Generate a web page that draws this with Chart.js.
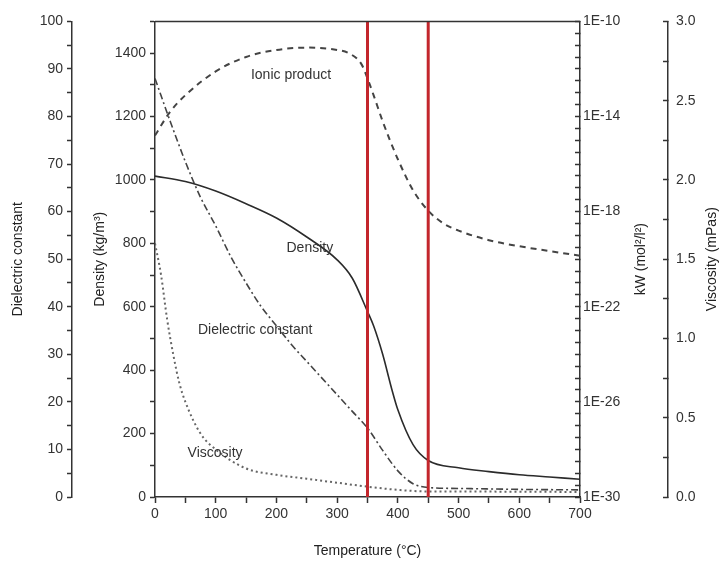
<!DOCTYPE html>
<html>
<head>
<meta charset="utf-8">
<script src="https://cdn.jsdelivr.net/npm/chart.js@4.4.1/dist/chart.umd.min.js"></script>
<style>
  html, body { margin: 0; padding: 0; background: #fff; }
  #wrap { width: 724px; height: 566px; }
</style>
</head>
<body>
<div id="wrap"><canvas id="chart"></canvas></div>
<script>
// temperatures (°C) and values
const densityTemps = [0, 50, 100, 150, 200, 250, 300, 325, 350, 360, 375, 390, 400, 425, 450, 500, 550, 600, 650, 700];
const densityValues = [1012, 995, 965, 925, 880, 820, 748, 690, 585, 540, 450, 340, 275, 165, 115, 92, 80, 70, 63, 56];

const dielectricTemps = [0, 25, 50, 75, 100, 125, 150, 175, 200, 225, 250, 275, 300, 325, 350, 375, 400, 425, 450, 500, 600, 700];
const dielectricValues = [88, 79, 70.5, 63, 57, 50.5, 45, 40, 36, 32, 28.5, 25, 21.5, 18, 14.5, 9.8, 5.5, 2.8, 2, 1.8, 1.6, 1.5];

const ionicTemps = [0, 25, 50, 100, 150, 200, 250, 300, 320, 340, 350, 360, 375, 387, 400, 425, 450, 475, 500, 550, 600, 650, 700];
const ionicValues = [1.6e-15, 1.6e-14, 7.9e-14, 7.9e-13, 3.2e-12, 6.3e-12, 7.9e-12, 6.3e-12, 4.5e-12, 1.6e-12, 4.0e-13, 7.9e-14, 6.3e-15, 1.0e-15, 1.6e-16, 7.9e-18, 1.1e-18, 3.2e-19, 1.6e-19, 6.3e-20, 3.5e-20, 2.2e-20, 1.4e-20];

const viscosityTemps = [0, 10, 20, 30, 40, 50, 75, 100, 150, 200, 250, 300, 350, 400, 450, 500, 600, 700];
const viscosityValues = [1.6, 1.4, 1.12, 0.9, 0.72, 0.6, 0.4, 0.3, 0.18, 0.14, 0.115, 0.09, 0.065, 0.045, 0.035, 0.035, 0.033, 0.032];

const markerTemps = [350, 450];

const labelTexts = ['Ionic product', 'Density', 'Dielectric constant', 'Viscosity'];
const labelTemps = [224, 255, 165, 99];
const labelDensity = [1331, 785, 527, 139];

const kwLabelExps = [-30, -26, -22, -18, -14, -10];

const FONT = "'Liberation Sans', Arial, sans-serif";
const INK = '#333';

function pts(xs, ys) { return xs.map((x, i) => ({ x, y: ys[i] })); }

// curve captions, top frame line and the two right-hand axis titles (read bottom-to-top like the left ones)
const curveLabels = {
  id: 'curveLabels',
  afterDatasetsDraw(chart) {
    const { ctx, chartArea: a, scales } = chart;
    ctx.save();
    ctx.font = '14px ' + FONT;
    ctx.fillStyle = INK;
    ctx.textAlign = 'center';
    ctx.textBaseline = 'middle';
    labelTexts.forEach((t, i) => {
      ctx.fillText(t, scales.x.getPixelForValue(labelTemps[i]), scales.density.getPixelForValue(labelDensity[i]));
    });
    ctx.strokeStyle = INK;
    ctx.lineWidth = 1.5;
    ctx.beginPath();
    ctx.moveTo(a.left, a.top);
    ctx.lineTo(a.right, a.top);
    ctx.stroke();

    const midY = (a.top + a.bottom) / 2;
    ctx.fillStyle = '#222';
    [[scales.kw, 'kW (mol²/l²)', 27], [scales.viscosity, 'Viscosity (mPas)', 12]].forEach(([s, text, off]) => {
      ctx.save();
      ctx.translate(s.right - off, midY);
      ctx.rotate(-Math.PI / 2);
      ctx.fillText(text, 0, 0);
      ctx.restore();
    });
    ctx.restore();
  }
};

const tickFont = { family: FONT, size: 14 };
const titleFont = { family: FONT, size: 14 };

function axisBase(width) {
  return {
    border: { display: true, color: INK, width: 1.5 },
    grid: { drawOnChartArea: false, drawTicks: true, tickLength: 5, tickColor: INK, tickWidth: 1.5 },
    afterFit: s => { s.width = width; }
  };
}

const markerSets = markerTemps.map(t => ({
  data: [{ x: t, y: 0 }, { x: t, y: 1500 }],
  yAxisID: 'density',
  borderColor: '#c3262c',
  borderWidth: 3,
  pointRadius: 0
}));

new Chart(document.getElementById('chart'), {
  type: 'line',
  data: {
    datasets: [
      ...markerSets,
      {
        label: 'Density',
        data: pts(densityTemps, densityValues),
        yAxisID: 'density',
        borderColor: '#2b2b2b', borderWidth: 1.6,
        pointRadius: 0, cubicInterpolationMode: 'monotone'
      },
      {
        label: 'Dielectric constant',
        data: pts(dielectricTemps, dielectricValues),
        yAxisID: 'dielectric',
        borderColor: '#444', borderWidth: 1.6, borderDash: [7, 3, 2, 3],
        pointRadius: 0, cubicInterpolationMode: 'monotone'
      },
      {
        label: 'Ionic product',
        data: pts(ionicTemps, ionicValues),
        yAxisID: 'kw',
        borderColor: '#444', borderWidth: 2, borderDash: [6, 5],
        pointRadius: 0, cubicInterpolationMode: 'monotone'
      },
      {
        label: 'Viscosity',
        data: pts(viscosityTemps, viscosityValues),
        yAxisID: 'viscosity',
        borderColor: '#666', borderWidth: 2, borderDash: [2, 3],
        pointRadius: 0, cubicInterpolationMode: 'monotone'
      }
    ]
  },
  options: {
    responsive: true,
    maintainAspectRatio: false,
    animation: false,
    layout: { padding: { top: 20, left: 0, right: 0, bottom: 0 } },
    plugins: { legend: { display: false }, tooltip: { enabled: false } },
    scales: {
      x: {
        type: 'linear', min: 0, max: 700,
        border: { display: true, color: INK, width: 1.5 },
        grid: { drawOnChartArea: false, tickLength: 6, tickColor: INK, tickWidth: 1.5 },
        ticks: {
          stepSize: 50, autoSkip: false, maxRotation: 0, color: INK, font: tickFont, padding: 3,
          callback: v => (v % 100 === 0 ? String(v) : '')
        },
        title: { display: true, text: 'Temperature (°C)', color: '#222', font: titleFont, padding: { top: 0, bottom: 6 } },
        afterFit: s => { s.height = 69; }
      },
      dielectric: {
        ...axisBase(72),
        type: 'linear', position: 'left', weight: 2, min: 0, max: 100,
        ticks: {
          stepSize: 5, autoSkip: false, color: INK, font: tickFont, padding: 4,
          callback: v => (v % 10 === 0 ? String(v) : '')
        },
        title: { display: true, text: 'Dielectric constant', color: '#222', font: titleFont, padding: { top: 10, bottom: 0 } }
      },
      density: {
        ...axisBase(83),
        type: 'linear', position: 'left', weight: 1, min: 0, max: 1500,
        ticks: {
          stepSize: 100, autoSkip: false, color: INK, font: tickFont, padding: 4,
          callback: v => (v % 200 === 0 && v <= 1400 ? String(v) : '')
        },
        title: { display: true, text: 'Density (kg/m³)', color: '#222', font: titleFont, padding: { top: 20, bottom: 0 } }
      },
      kw: {
        ...axisBase(88),
        type: 'logarithmic', position: 'right', weight: 1, min: 1e-30, max: 1e-10,
        grid: { drawOnChartArea: false, drawTicks: true, tickLength: -5, tickColor: INK, tickWidth: 1.5 },
        afterBuildTicks: s => {
          const t = [];
          for (let e = -30; e <= -10; e += 0.5) t.push({ value: Math.pow(10, e) });
          s.ticks = t;
        },
        ticks: {
          autoSkip: false, color: INK, font: tickFont, padding: 8,
          callback: v => {
            const e = Math.round(Math.log10(v) * 2) / 2;
            return kwLabelExps.includes(e) ? '1E' + e : '';
          }
        },
        title: { display: false }
      },
      viscosity: {
        ...axisBase(56),
        type: 'linear', position: 'right', weight: 2, min: 0, max: 3,
        grid: { drawOnChartArea: false, drawTicks: true, tickLength: -5, tickColor: INK, tickWidth: 1.5 },
        ticks: {
          stepSize: 0.25, autoSkip: false, color: INK, font: tickFont, padding: 13,
          callback: v => (Math.abs(v * 2 - Math.round(v * 2)) < 1e-6 ? v.toFixed(1) : '')
        },
        title: { display: false }
      }
    }
  },
  plugins: [curveLabels]
});
</script>
</body>
</html>
